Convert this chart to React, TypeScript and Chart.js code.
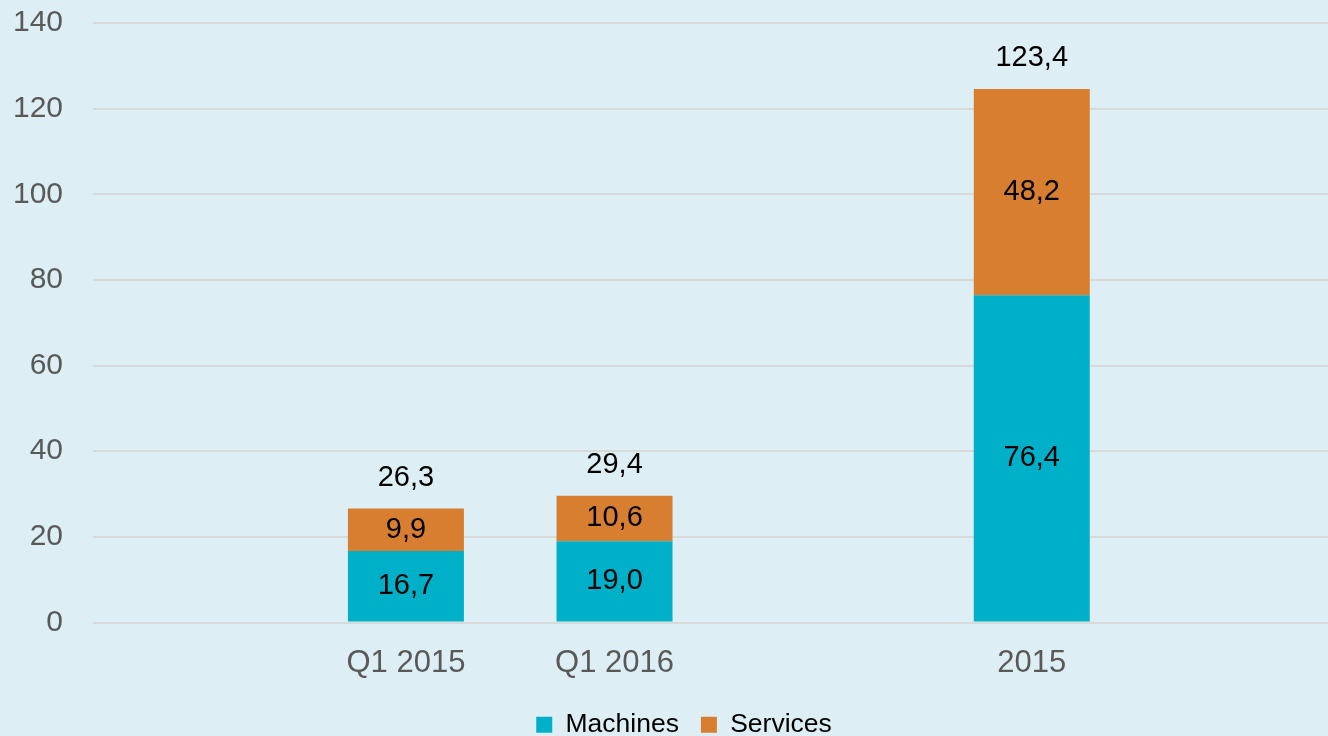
import React, { useEffect, useRef } from "react";
import { Chart, registerables } from "chart.js";

Chart.register(...registerables);

const categories = ["", "Q1 2015", "Q1 2016", "", "2015", ""];
const machines: (number | null)[] = [null, 16.7, 19.0, null, 76.4, null];
const services: (number | null)[] = [null, 9.9, 10.6, null, 48.2, null];
const totals: (number | null)[] = [null, 26.3, 29.4, null, 123.4, null];
const yTicks = [0, 20, 40, 60, 80, 100, 120, 140];
const seriesNames = ["Machines", "Services"];

const FONT = "'Liberation Sans', Arial, sans-serif";
const fmt = (v: number) => v.toFixed(1).replace(".", ",");

const toPoints = (values: (number | null)[]) =>
  values
    .map((v, i) => (v == null ? null : { x: i, y: v }))
    .filter((p) => p !== null) as { x: number; y: number }[];

const labelPlugin = {
  id: "barLabels",
  afterDatasetsDraw(chart: any) {
    const ctx = chart.ctx;
    ctx.save();
    ctx.font = `29px ${FONT}`;
    ctx.fillStyle = "#000000";
    ctx.textAlign = "center";
    ctx.textBaseline = "middle";
    const n = chart.data.datasets.length;
    chart.data.datasets.forEach((ds: any, di: number) => {
      const meta = chart.getDatasetMeta(di);
      meta.data.forEach((el: any, j: number) => {
        const p = ds.data[j];
        const { x, y, base } = el.getProps(["x", "y", "base"], true);
        ctx.fillText(fmt(p.y), x, (y + base) / 2);
        if (di === n - 1) {
          const t = totals[p.x];
          if (t != null) ctx.fillText(fmt(t), x, y - 31);
        }
      });
    });
    ctx.restore();
  },
};

export default function App() {
  const ref = useRef<HTMLCanvasElement | null>(null);

  useEffect(() => {
    if (!ref.current) return;
    const chart = new Chart(ref.current, {
      type: "bar",
      data: {
        datasets: [
          {
            label: seriesNames[0],
            data: toPoints(machines) as any,
            backgroundColor: "#00B0C8",
            categoryPercentage: 1,
            barPercentage: 0.556,
          },
          {
            label: seriesNames[1],
            data: toPoints(services) as any,
            backgroundColor: "#D87E31",
            categoryPercentage: 1,
            barPercentage: 0.556,
          },
        ],
      },
      options: {
        animation: false,
        responsive: true,
        maintainAspectRatio: false,
        layout: { padding: { left: 13, right: -27, top: 23, bottom: -12 } },
        plugins: {
          tooltip: { enabled: false },
          legend: {
            position: "bottom",
            labels: {
              color: "#000000",
              font: { family: FONT, size: 26.5 },
              boxWidth: 16,
              boxHeight: 16,
              padding: 22,
            },
          },
        },
        scales: {
          x: {
            type: "linear",
            stacked: true,
            offset: false,
            min: -0.5,
            max: 5.42,
            grid: { display: false, drawTicks: false },
            border: { display: false },
            afterBuildTicks: (scale: any) => {
              scale.ticks = categories
                .map((c, i) => ({ value: i, c }))
                .filter((t) => t.c !== "")
                .map((t) => ({ value: t.value }));
            },
            afterFit: (scale: any) => {
              scale.height = 67;
              scale.paddingLeft = 0;
              scale.paddingRight = 0;
            },
            ticks: {
              autoSkip: false,
              maxRotation: 0,
              color: "#595959",
              font: { family: FONT, size: 31 },
              padding: 22,
              callback: (value: any) => categories[Math.round(Number(value))] ?? "",
            },
          },
          y: {
            stacked: true,
            min: 0,
            max: 140,
            grid: { color: "#D9D9D9", lineWidth: 2, drawTicks: false },
            border: { display: false },
            afterBuildTicks: (scale: any) => {
              scale.ticks = yTicks.map((v) => ({ value: v }));
            },
            afterFit: (scale: any) => {
              scale.width = 80;
              scale.paddingTop = 0;
              scale.paddingBottom = 0;
            },
            ticks: {
              color: "#595959",
              font: { family: FONT, size: 30 },
              padding: 30,
            },
          },
        },
      } as any,
      plugins: [labelPlugin],
    });
    return () => chart.destroy();
  }, []);

  return (
    <div
      style={{
        position: "fixed",
        left: 0,
        top: 0,
        width: 1328,
        height: 736,
        background: "#DDEFF5",
      }}
    >
      <canvas ref={ref} />
    </div>
  );
}
